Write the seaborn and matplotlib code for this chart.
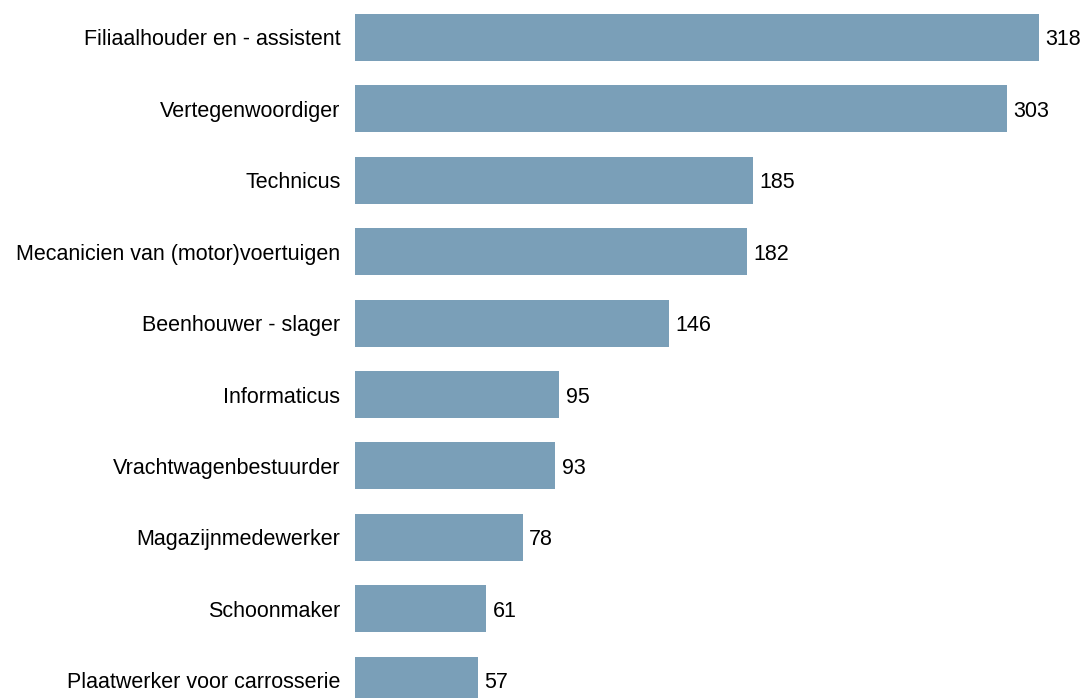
import matplotlib
matplotlib.use('Agg')
import matplotlib.pyplot as plt
import seaborn as sns
import pandas as pd

# ====================================
# DATA
# ====================================

beroepen = [
    'Filiaalhouder en - assistent',
    'Vertegenwoordiger',
    'Technicus',
    'Mecanicien van (motor)voertuigen',
    'Beenhouwer - slager',
    'Informaticus',
    'Vrachtwagenbestuurder',
    'Magazijnmedewerker',
    'Schoonmaker',
    'Plaatwerker voor carrosserie',
]

aantallen = [318, 303, 185, 182, 146, 95, 93, 78, 61, 57]

df = pd.DataFrame({'beroep': beroepen, 'aantal': aantallen})

# ====================================
# STYLE
# ====================================

sns.set_theme(style='white')
plt.rcParams['font.family'] = ['Liberation Sans', 'DejaVu Sans']

BAR_COLOR = '#7a9fb8'
FONT_SIZE = 15.5

# ====================================
# PLOT
# ====================================

fig = plt.figure(figsize=(10.86, 6.98), dpi=100)
ax = fig.add_axes([355 / 1086, 0, 731 / 1086, 1])

sns.barplot(
    data=df,
    x='aantal',
    y='beroep',
    color=BAR_COLOR,
    saturation=1,
    width=0.66,
    linewidth=0,
    ax=ax
)

ax.set_xlim(0, 339.8)
ax.set_ylim(9.25, -0.525)

# value labels next to the bars
for i, v in enumerate(aantallen):
    ax.text(v + 3.0, i, str(v), va='center_baseline', ha='left',
            fontsize=FONT_SIZE, color='black')

ax.set_xlabel('')
ax.set_ylabel('')
ax.set_xticks([])
ax.tick_params(axis='y', length=0, pad=10.5, labelsize=FONT_SIZE, labelcolor='black')
for lbl in ax.get_yticklabels():
    lbl.set_verticalalignment('center_baseline')

sns.despine(ax=ax, left=True, bottom=True)

plt.savefig('out.png', dpi=100)
plt.close()
